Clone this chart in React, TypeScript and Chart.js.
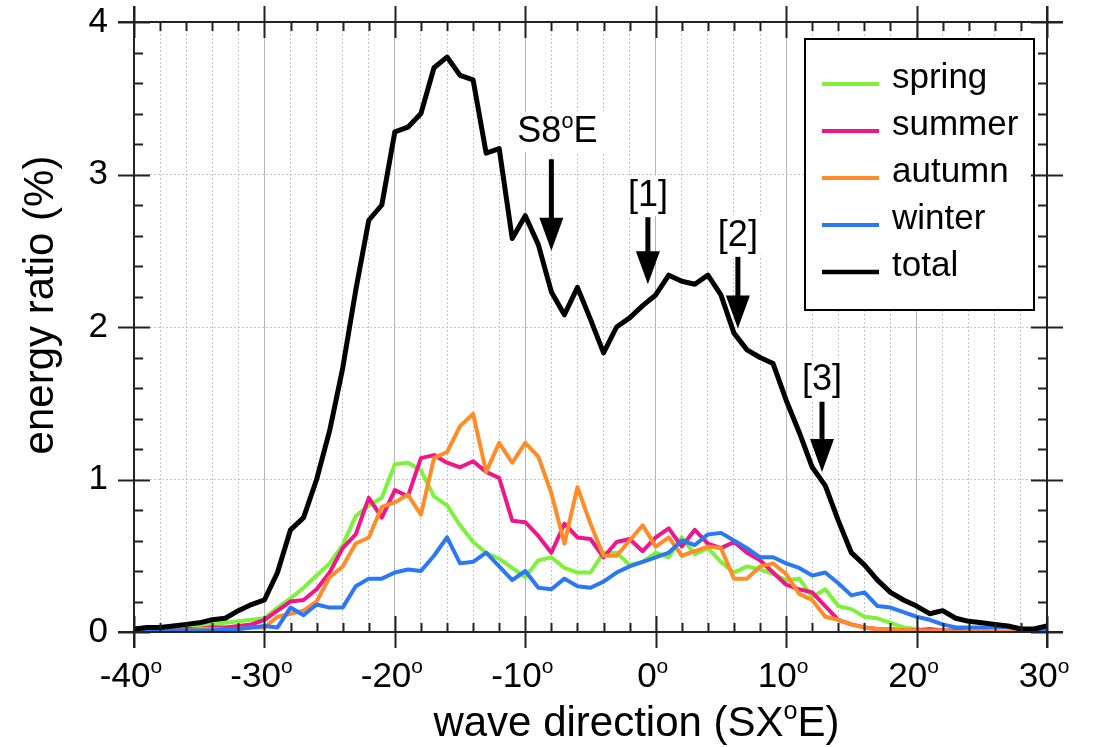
import React, { useEffect, useRef } from "react";
import { Chart, registerables } from "chart.js";

Chart.register(...registerables);

const FONT = '"Liberation Sans", Arial, Helvetica, sans-serif';

// wave direction (degrees, S X° E)
const directions = [
  -40, -39, -38, -37, -36, -35, -34, -33, -32, -31,
  -30, -29, -28, -27, -26, -25, -24, -23, -22, -21,
  -20, -19, -18, -17, -16, -15, -14, -13, -12, -11,
  -10, -9, -8, -7, -6, -5, -4, -3, -2, -1,
  0, 1, 2, 3, 4, 5, 6, 7, 8, 9,
  10, 11, 12, 13, 14, 15, 16, 17, 18, 19,
  20, 21, 22, 23, 24, 25, 26, 27, 28, 29, 30,
];

const spring = [
  0.01, 0.01, 0.02, 0.02, 0.03, 0.04, 0.05, 0.06, 0.07, 0.08,
  0.09, 0.16, 0.22, 0.29, 0.37, 0.45, 0.57, 0.76, 0.83, 0.88,
  1.10, 1.11, 1.06, 0.89, 0.83, 0.70, 0.59, 0.52, 0.48, 0.42,
  0.36, 0.47, 0.49, 0.42, 0.39, 0.39, 0.52, 0.52, 0.44, 0.46,
  0.52, 0.49, 0.62, 0.51, 0.55, 0.46, 0.39, 0.43, 0.41, 0.38,
  0.34, 0.35, 0.23, 0.28, 0.17, 0.15, 0.10, 0.09, 0.06, 0.03,
  0.02, 0.01, 0.01, 0.01, 0.01, 0.01, 0.0, 0.0, 0.0, 0.0, 0.0,
];

const summer = [
  0.01, 0.02, 0.01, 0.01, 0.02, 0.02, 0.03, 0.03, 0.04, 0.05,
  0.08, 0.14, 0.20, 0.21, 0.28, 0.39, 0.55, 0.64, 0.88, 0.75,
  0.93, 0.89, 1.14, 1.16, 1.11, 1.08, 1.12, 1.05, 1.01, 0.73,
  0.72, 0.63, 0.52, 0.71, 0.62, 0.61, 0.49, 0.59, 0.61, 0.53,
  0.62, 0.68, 0.56, 0.67, 0.58, 0.55, 0.59, 0.52, 0.47, 0.39,
  0.31, 0.28, 0.26, 0.17, 0.08, 0.05, 0.03, 0.02, 0.02, 0.01,
  0.01, 0.02, 0.01, 0.01, 0.0, 0.0, 0.0, 0.0, 0.0, 0.0, 0.0,
];

const autumn = [
  0.0, 0.01, 0.01, 0.01, 0.01, 0.02, 0.02, 0.02, 0.02, 0.03,
  0.03, 0.10, 0.12, 0.14, 0.20, 0.36, 0.43, 0.58, 0.62, 0.82,
  0.85, 0.90, 0.77, 1.14, 1.18, 1.35, 1.43, 1.05, 1.24, 1.11,
  1.24, 1.15, 0.91, 0.58, 0.95, 0.71, 0.50, 0.50, 0.60, 0.70,
  0.56, 0.62, 0.50, 0.53, 0.56, 0.55, 0.35, 0.35, 0.43, 0.45,
  0.38, 0.25, 0.21, 0.10, 0.08, 0.05, 0.03, 0.02, 0.02, 0.01,
  0.01, 0.01, 0.01, 0.0, 0.0, 0.0, 0.0, 0.0, 0.0, 0.0, 0.0,
];

const winter = [
  0.0, 0.01, 0.01, 0.01, 0.01, 0.01, 0.01, 0.02, 0.02, 0.03,
  0.04, 0.03, 0.16, 0.11, 0.18, 0.16, 0.16, 0.30, 0.35, 0.35,
  0.39, 0.41, 0.40, 0.50, 0.62, 0.45, 0.46, 0.52, 0.43, 0.34,
  0.40, 0.29, 0.28, 0.35, 0.30, 0.29, 0.33, 0.39, 0.43, 0.46,
  0.49, 0.52, 0.60, 0.57, 0.64, 0.65, 0.60, 0.55, 0.49, 0.49,
  0.45, 0.42, 0.37, 0.39, 0.32, 0.24, 0.26, 0.17, 0.16, 0.13,
  0.10, 0.08, 0.05, 0.03, 0.03, 0.03, 0.03, 0.03, 0.02, 0.02, 0.02,
];

const total = [
  0.02, 0.03, 0.03, 0.04, 0.05, 0.06, 0.08, 0.09, 0.14, 0.18,
  0.21, 0.39, 0.67, 0.75, 1.00, 1.32, 1.73, 2.24, 2.70, 2.80,
  3.28, 3.31, 3.40, 3.70, 3.77, 3.65, 3.62, 3.14, 3.17, 2.58,
  2.73, 2.54, 2.23, 2.08, 2.26, 2.05, 1.83, 2.00, 2.06, 2.14,
  2.21, 2.34, 2.30, 2.28, 2.34, 2.21, 1.96, 1.85, 1.80, 1.76,
  1.52, 1.31, 1.08, 0.96, 0.73, 0.52, 0.44, 0.34, 0.26, 0.21,
  0.17, 0.12, 0.14, 0.09, 0.07, 0.06, 0.05, 0.04, 0.02, 0.02, 0.04,
];

const seriesNames = ["spring", "summer", "autumn", "winter", "total"];
const seriesValues = [spring, summer, autumn, winter, total];
const seriesColors = ["#7ef23a", "#f0168a", "#ff8c26", "#2a78f5", "#000000"];
const seriesWidths = [4, 4, 4, 4, 5];

const xTickValues = [-40, -30, -20, -10, 0, 10, 20, 30];

type Part = { t: string; sup?: boolean };

const annotations: { parts: Part[]; x: number; top: number; tip: number; dx: number; dy: number }[] = [
  { parts: [{ t: "S8" }, { t: "o", sup: true }, { t: "E" }], x: -8, top: 3.1, tip: 2.5, dx: 6, dy: -17 },
  { parts: [{ t: "[1]" }], x: -0.6, top: 2.72, tip: 2.28, dx: 0, dy: -11 },
  { parts: [{ t: "[2]" }], x: 6.3, top: 2.46, tip: 1.99, dx: 0, dy: -11 },
  { parts: [{ t: "[3]" }], x: 12.75, top: 1.51, tip: 1.05, dx: 0, dy: -12 },
];

function measureParts(ctx: CanvasRenderingContext2D, parts: Part[], size: number) {
  let w = 0;
  for (const p of parts) {
    ctx.font = `${p.sup ? size * 0.6 : size}px ${FONT}`;
    w += ctx.measureText(p.t).width;
  }
  return w;
}

function drawParts(
  ctx: CanvasRenderingContext2D,
  parts: Part[],
  x: number,
  baseline: number,
  size: number,
  align: "center" | "left"
) {
  const w = measureParts(ctx, parts, size);
  let cx = align === "center" ? x - w / 2 : x;
  ctx.textAlign = "left";
  ctx.textBaseline = "alphabetic";
  for (const p of parts) {
    ctx.font = `${p.sup ? size * 0.6 : size}px ${FONT}`;
    ctx.fillText(p.t, cx, p.sup ? baseline - size * 0.405 : baseline);
    cx += ctx.measureText(p.t).width;
  }
  return w;
}

const decorPlugin = {
  id: "decor",
  afterDatasetsDraw(chart: any) {
    const ctx: CanvasRenderingContext2D = chart.ctx;
    const xs = chart.scales.x;
    const ys = chart.scales.y;
    const a = chart.chartArea;
    ctx.save();

    // annotations with arrows
    const size = 36;
    for (const an of annotations) {
      const px = xs.getPixelForValue(an.x);
      const pTop = ys.getPixelForValue(an.top);
      const pTip = ys.getPixelForValue(an.tip);
      const cx = px + an.dx;
      const bl = pTop + an.dy;
      const w = measureParts(ctx, an.parts, size);
      ctx.fillStyle = "#ffffff";
      ctx.fillRect(cx - w / 2 - 8, bl - size * 0.85, w + 16, size * 1.12);
      ctx.fillStyle = "#000000";
      drawParts(ctx, an.parts, cx, bl, size, "center");
      ctx.strokeStyle = "#000000";
      ctx.lineWidth = 5;
      ctx.beginPath();
      ctx.moveTo(px, pTop);
      ctx.lineTo(px, pTip - 28);
      ctx.stroke();
      ctx.beginPath();
      ctx.moveTo(px - 12, pTip - 33);
      ctx.lineTo(px + 12, pTip - 33);
      ctx.lineTo(px, pTip);
      ctx.closePath();
      ctx.fill();
    }

    // legend box
    const lx0 = a.right - 242;
    const lx1 = a.right - 13;
    const ly0 = a.top + 17;
    const ly1 = a.top + 288;
    ctx.fillStyle = "#ffffff";
    ctx.fillRect(lx0, ly0, lx1 - lx0, ly1 - ly0);
    ctx.strokeStyle = "#000000";
    ctx.lineWidth = 2;
    ctx.strokeRect(lx0, ly0, lx1 - lx0, ly1 - ly0);
    for (let i = 0; i < seriesNames.length; i++) {
      const y = ly0 + 45 + i * 47;
      ctx.strokeStyle = seriesColors[i];
      ctx.lineWidth = i === 4 ? 4.5 : 4;
      ctx.beginPath();
      ctx.moveTo(lx0 + 17, y);
      ctx.lineTo(lx0 + 74, y);
      ctx.stroke();
      ctx.fillStyle = "#000000";
      ctx.font = `35px ${FONT}`;
      ctx.textAlign = "left";
      ctx.textBaseline = "alphabetic";
      ctx.fillText(seriesNames[i], lx0 + 87, y + 4);
    }
    ctx.restore();
  },
  afterDraw(chart: any) {
    const ctx: CanvasRenderingContext2D = chart.ctx;
    const xs = chart.scales.x;
    const ys = chart.scales.y;
    const a = chart.chartArea;
    ctx.save();
    ctx.strokeStyle = "#222222";
    ctx.lineWidth = 2;
    const ext = 16;
    const minor = 9;

    // axis frame lines
    ctx.beginPath();
    ctx.moveTo(a.left - ext, a.bottom);
    ctx.lineTo(a.right + ext, a.bottom);
    ctx.moveTo(a.left - ext, a.top);
    ctx.lineTo(a.right + ext, a.top);
    ctx.moveTo(a.left, a.top - ext);
    ctx.lineTo(a.left, a.bottom + ext);
    ctx.moveTo(a.right, a.top - ext);
    ctx.lineTo(a.right, a.bottom + ext);
    ctx.stroke();

    // x ticks (top & bottom)
    ctx.beginPath();
    for (const t of xs.ticks) {
      const v = t.value;
      const px = Math.round(xs.getPixelForValue(v)) + 0.5;
      if (v % 10 === 0) {
        ctx.moveTo(px, a.bottom - ext);
        ctx.lineTo(px, a.bottom + ext);
        ctx.moveTo(px, a.top - ext);
        ctx.lineTo(px, a.top + ext);
      } else {
        ctx.moveTo(px, a.bottom - minor);
        ctx.lineTo(px, a.bottom);
        ctx.moveTo(px, a.top);
        ctx.lineTo(px, a.top + minor);
      }
    }
    // y ticks (left & right)
    for (let i = 0; i <= 20; i++) {
      const v = i / 5;
      const py = Math.round(ys.getPixelForValue(v)) + 0.5;
      if (i % 5 === 0) {
        ctx.moveTo(a.left - ext, py);
        ctx.lineTo(a.left + ext, py);
        ctx.moveTo(a.right - ext, py);
        ctx.lineTo(a.right + ext, py);
      } else {
        ctx.moveTo(a.left, py);
        ctx.lineTo(a.left + minor, py);
        ctx.moveTo(a.right - minor, py);
        ctx.lineTo(a.right, py);
      }
    }
    ctx.stroke();

    // x tick labels with superscript degree
    ctx.fillStyle = "#000000";
    for (const v of xTickValues) {
      const px = xs.getPixelForValue(v);
      drawParts(ctx, [{ t: String(v) }, { t: "o", sup: true }], px - 3, a.bottom + 55, 35, "center");
    }

    // x title
    drawParts(
      ctx,
      [{ t: "wave direction (SX" }, { t: "o", sup: true }, { t: "E)" }],
      (a.left + a.right) / 2 + 46,
      a.bottom + 104,
      42,
      "center"
    );

    // y title
    ctx.save();
    ctx.translate(53, a.top + 283);
    ctx.rotate(-Math.PI / 2);
    ctx.font = `42px ${FONT}`;
    ctx.textAlign = "center";
    ctx.textBaseline = "alphabetic";
    ctx.fillText("energy ratio (%)", 0, 0);
    ctx.restore();

    ctx.restore();
  },
};

export default function App() {
  const ref = useRef<HTMLCanvasElement | null>(null);

  useEffect(() => {
    document.body.style.margin = "0";
    const canvas = ref.current;
    if (!canvas) return;
    const datasets = seriesNames.map((name, i) => ({
      label: name,
      data: seriesValues[i].map((v, j) => ({ x: directions[j], y: v })),
      borderColor: seriesColors[i],
      backgroundColor: seriesColors[i],
      borderWidth: seriesWidths[i],
      pointRadius: 0,
      tension: 0,
      fill: false,
      borderJoinStyle: "round" as const,
      borderCapStyle: "round" as const,
      order: i === 4 ? 0 : 5 - i,
    }));

    const chart = new Chart(canvas, {
      type: "line",
      data: { datasets },
      options: {
        responsive: false,
        animation: false,
        events: [],
        layout: { padding: { top: 22, right: 58, left: 0, bottom: 0 } },
        plugins: {
          legend: { display: false },
          tooltip: { enabled: false },
        },
        scales: {
          x: {
            type: "linear",
            min: -40,
            max: 30,
            ticks: { stepSize: 2, display: false },
            grid: {
              drawTicks: false,
              lineWidth: 1,
              color: (c: any) => {
                const v = c.tick ? c.tick.value : 0;
                if (v === -40 || v === 30) return "rgba(0,0,0,0)";
                return v % 10 === 0 ? "#b4b4b4" : "#c4c4c4";
              },
            },
            border: {
              display: false,
              dash: (c: any) => (c.tick && c.tick.value % 10 === 0 ? [] : [2, 2]),
            },
            afterFit: (scale: any) => {
              scale.height = 115;
              scale.paddingLeft = 0;
              scale.paddingRight = 0;
            },
          },
          y: {
            type: "linear",
            min: 0,
            max: 4,
            ticks: {
              stepSize: 1,
              color: "#000000",
              padding: 26,
              font: { family: FONT, size: 35, lineHeight: 1 },
            },
            grid: {
              drawTicks: false,
              lineWidth: 1,
              color: (c: any) => {
                const v = c.tick ? c.tick.value : 0;
                if (v === 0 || v === 4) return "rgba(0,0,0,0)";
                return "#c4c4c4";
              },
            },
            border: { display: false, dash: [2, 2] },
            afterFit: (scale: any) => {
              scale.width = 134;
              scale.paddingTop = 0;
              scale.paddingBottom = 0;
            },
          },
        },
      },
      plugins: [decorPlugin],
    });
    return () => chart.destroy();
  }, []);

  return (
    <canvas
      ref={ref}
      width={1105}
      height={747}
      style={{ display: "block", width: "1105px", height: "747px", background: "#ffffff" }}
    />
  );
}
